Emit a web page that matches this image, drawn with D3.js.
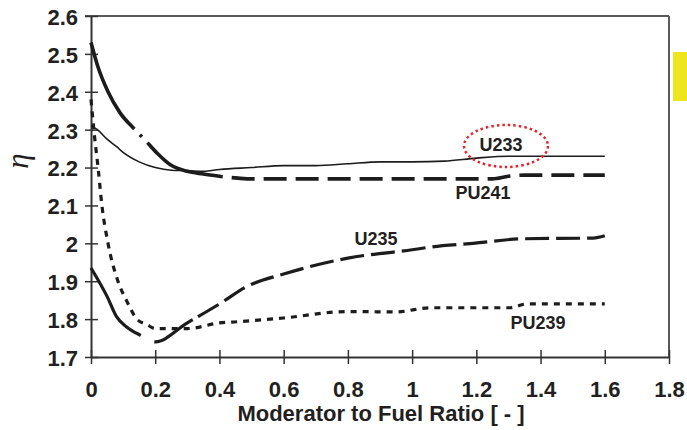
<!DOCTYPE html>
<html>
<head>
<meta charset="utf-8">
<script src="https://cdn.jsdelivr.net/npm/d3@7"></script>
<style>
  body { margin: 0; background: #fff; }
  svg { display: block; }
  text { font-family: "Liberation Sans", Arial, sans-serif; fill: #231f20; }
</style>
</head>
<body>
<svg id="chart" width="687" height="430"></svg>
<script>
// Axis ticks
const xTicks = [0, 0.2, 0.4, 0.6, 0.8, 1, 1.2, 1.4, 1.6, 1.8];
const xTickLabels = ["0", "0.2", "0.4", "0.6", "0.8", "1", "1.2", "1.4", "1.6", "1.8"];
const yTicks = [1.7, 1.8, 1.9, 2, 2.1, 2.2, 2.3, 2.4, 2.5, 2.6];
const yTickLabels = ["1.7", "1.8", "1.9", "2", "2.1", "2.2", "2.3", "2.4", "2.5", "2.6"];

// Neutron yield per absorption (eta) vs moderator-to-fuel ratio
const u233 = [[0, 2.31], [0.02, 2.30], [0.05, 2.275], [0.08, 2.255], [0.1, 2.24], [0.15, 2.215],
  [0.2, 2.2], [0.25, 2.193], [0.3, 2.192], [0.35, 2.19], [0.4, 2.195], [0.5, 2.2], [0.6, 2.205],
  [0.7, 2.205], [0.8, 2.21], [0.9, 2.215], [1.0, 2.215], [1.1, 2.217], [1.2, 2.225], [1.3, 2.23],
  [1.45, 2.23], [1.6, 2.23]];
const pu241 = [[0, 2.53], [0.02, 2.47], [0.053, 2.40], [0.09, 2.345], [0.137, 2.30], [0.168, 2.273],
  [0.206, 2.238], [0.246, 2.208], [0.3, 2.19], [0.35, 2.183], [0.4, 2.177], [0.458, 2.172],
  [0.5, 2.17], [0.8, 2.17], [1.0, 2.17], [1.25, 2.17], [1.3, 2.177], [1.35, 2.18], [1.6, 2.18]];
const u235 = [[0, 1.935], [0.05, 1.86], [0.08, 1.806], [0.11, 1.78], [0.158, 1.756], [0.2, 1.74],
  [0.3, 1.79], [0.4, 1.84], [0.49, 1.888], [0.6, 1.919], [0.8, 1.961], [1.0, 1.983], [1.056, 1.99],
  [1.19, 2.0], [1.346, 2.012], [1.564, 2.014], [1.6, 2.02]];
const pu239 = [[0, 2.38], [0.01, 2.29], [0.022, 2.2], [0.034, 2.1], [0.053, 2.0], [0.084, 1.9],
  [0.11, 1.85], [0.143, 1.8], [0.175, 1.785], [0.2, 1.775], [0.3, 1.775], [0.4, 1.79],
  [0.455, 1.793], [0.6, 1.803], [0.8, 1.82], [0.95, 1.819], [1.056, 1.83], [1.305, 1.83],
  [1.358, 1.84], [1.6, 1.84]];

const svg = d3.select("#chart");
const x = d3.scaleLinear().domain([0, 1.8]).range([91, 669]);
const y = d3.scaleLinear().domain([1.7, 2.6]).range([357, 16]);

// Highlight tab at the right edge
svg.append("rect").attr("x", 673).attr("y", 52).attr("width", 14).attr("height", 49)
  .attr("fill", "#ede51e");

// Frame: top and right edges
svg.append("line").attr("x1", 85).attr("x2", x(1.8)).attr("y1", y(2.6)).attr("y2", y(2.6))
  .attr("stroke", "#5a5a5a").attr("stroke-width", 2);
svg.append("line").attr("x1", x(1.8)).attr("x2", x(1.8)).attr("y1", y(2.6)).attr("y2", y(1.7))
  .attr("stroke", "#5a5a5a").attr("stroke-width", 2);

// Axes
const xAxis = svg.append("g").attr("transform", `translate(0,${y(1.7)})`)
  .call(d3.axisBottom(x).tickValues(xTicks).tickFormat((d, i) => xTickLabels[i]).tickSizeOuter(0));
const yAxis = svg.append("g").attr("transform", `translate(${x(0)},0)`)
  .call(d3.axisLeft(y).tickValues(yTicks).tickFormat((d, i) => yTickLabels[i]).tickSizeOuter(0));

xAxis.select(".domain").attr("stroke", "#333").attr("stroke-width", 2);
yAxis.select(".domain").attr("stroke", "#333").attr("stroke-width", 2);
xAxis.selectAll(".tick line").attr("y1", -7).attr("y2", 7).attr("stroke", "#333").attr("stroke-width", 1.5);
yAxis.selectAll(".tick line").attr("x1", -6).attr("x2", 7).attr("stroke", "#333").attr("stroke-width", 1.5);
xAxis.selectAll(".tick text").attr("y", 24).attr("dy", "0.71em")
  .style("font-size", "22px").style("font-weight", "bold").attr("fill", "#231f20")
  .style("font-family", "'Liberation Sans', Arial, sans-serif");
yAxis.selectAll(".tick text").attr("x", -13).attr("dy", "0.38em")
  .style("font-size", "22px").style("font-weight", "bold").attr("fill", "#231f20")
  .style("font-family", "'Liberation Sans', Arial, sans-serif");

// Axis titles
svg.append("text").attr("x", 381).attr("y", 421).attr("text-anchor", "middle")
  .style("font-size", "22px").style("font-weight", "bold").text("Moderator to Fuel Ratio [ - ]");
svg.append("text").attr("transform", "translate(28,161) rotate(-90)").attr("text-anchor", "middle")
  .style("font-family", "'Liberation Serif', 'DejaVu Serif', serif").style("font-style", "italic")
  .style("font-size", "31px").text("η");

// Curves
const line = d3.line().x(d => x(d[0])).y(d => y(d[1])).curve(d3.curveMonotoneX);

function dashed(data, width, lead, repeat) {
  const p = svg.append("path").datum(data).attr("d", line).attr("fill", "none")
    .attr("stroke", "#1c1c1c").attr("stroke-width", width)
    .attr("stroke-linejoin", "round");
  if (lead || repeat) {
    const len = p.node().getTotalLength();
    const arr = lead ? lead.slice() : [];
    let s = d3.sum(arr);
    while (s < len + 50) { arr.push(...repeat); s += d3.sum(repeat); }
    p.attr("stroke-dasharray", arr.join(","));
  }
  return p;
}

dashed(u233, 1.6, null, null);
dashed(pu241, 3.6, [98, 8, 3, 8, 86, 9], [23, 9]);
dashed(u235, 3.2, [86, 15, 45, 6], [24, 7]);
dashed(pu239, 3.2, [], [6, 6]);

// Curve labels
const labels = [
  { t: "U233", cx: 501, by: 151 },
  { t: "PU241", cx: 483, by: 199 },
  { t: "U235", cx: 376, by: 245 },
  { t: "PU239", cx: 538, by: 329 }
];
svg.selectAll(".lbl").data(labels).join("text").attr("class", "lbl")
  .attr("x", d => d.cx).attr("y", d => d.by).attr("text-anchor", "middle")
  .style("font-size", "18px").style("font-weight", "bold").text(d => d.t);

// Dotted red ring around U233
svg.append("ellipse").attr("cx", 506).attr("cy", 146).attr("rx", 42).attr("ry", 21)
  .attr("fill", "none").attr("stroke", "#e5242b").attr("stroke-width", 2.5)
  .attr("stroke-dasharray", "2.5,3");
</script>
</body>
</html>
